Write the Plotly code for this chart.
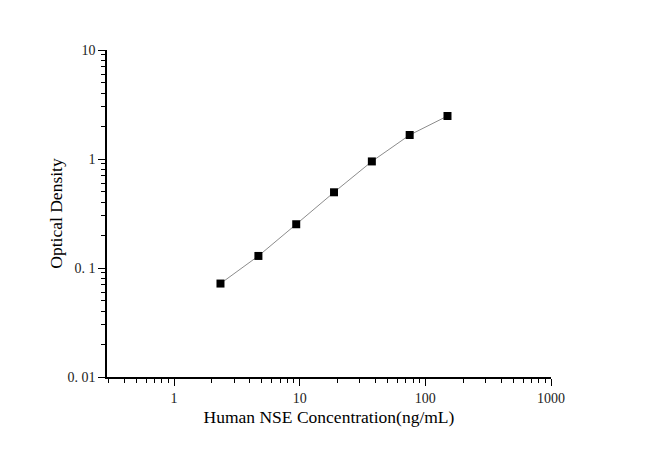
import plotly.graph_objects as go

# Standard curve data
concentration = [2.34, 4.69, 9.38, 18.75, 37.5, 75, 150]
optical_density = [0.072, 0.129, 0.252, 0.495, 0.95, 1.66, 2.48]

x_tickvals = [1, 10, 100, 1000]
x_ticktext = ["1", "10", "100", "1000"]
y_tickvals = [0.01, 0.1, 1, 10]
y_ticktext = ["0. 01", "0. 1", "1", "10"]

x_minor = [m * 10 ** e for e in range(-1, 3) for m in range(2, 10) if m * 10 ** e > 0.29]
y_minor = [m * 10 ** e for e in range(-2, 1) for m in range(2, 10)]

fig = go.Figure()
fig.add_trace(go.Scatter(
    x=concentration,
    y=optical_density,
    mode="lines+markers",
    line=dict(color="#8c8c8c", width=1),
    marker=dict(symbol="square", size=8, color="black"),
    showlegend=False,
))

axis_font = dict(family="Liberation Serif", size=17.5, color="black")

fig.update_layout(
    width=650,
    height=454,
    # the page body adds 8px on the left and top
    margin=dict(l=99, r=107, t=42, b=85),
    plot_bgcolor="white",
    paper_bgcolor="white",
    font=dict(family="Liberation Serif", size=14, color="#222222"),
    xaxis=dict(
        type="log",
        range=[-0.534, 3],
        tickvals=x_tickvals,
        ticktext=x_ticktext,
        ticks="outside",
        ticklen=7,
        tickwidth=1.3,
        tickcolor="black",
        showline=True,
        linecolor="black",
        linewidth=1.5,
        showgrid=False,
        zeroline=False,
        title=dict(text="Human NSE Concentration(ng/mL)", font=axis_font, standoff=6),
        minor=dict(tickvals=x_minor, ticks="outside", ticklen=4, tickcolor="black", tickwidth=1, showgrid=False),
    ),
    yaxis=dict(
        type="log",
        range=[-2, 1],
        tickvals=y_tickvals,
        ticktext=y_ticktext,
        ticks="outside",
        ticklen=7,
        tickwidth=1.3,
        tickcolor="black",
        showline=True,
        linecolor="black",
        linewidth=1.5,
        showgrid=False,
        zeroline=False,
        title=dict(text="Optical Density", font=axis_font, standoff=0),
        minor=dict(tickvals=y_minor, ticks="outside", ticklen=4, tickcolor="black", tickwidth=1, showgrid=False),
    ),
)

fig.write_html("out.html")
